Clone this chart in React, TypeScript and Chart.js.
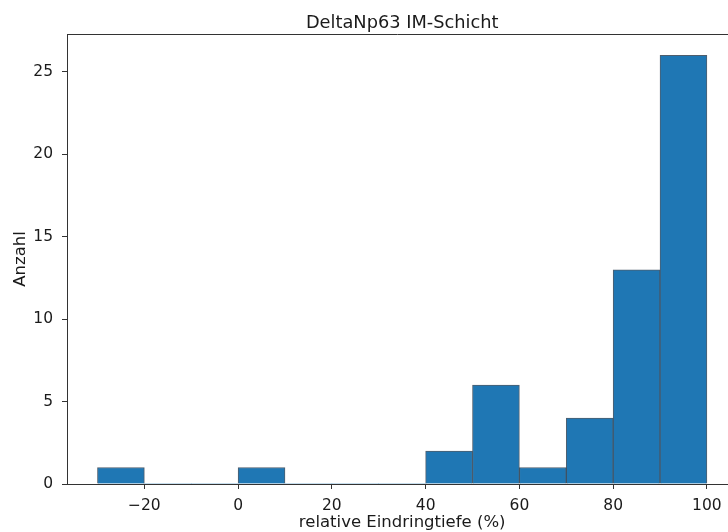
import React, { useEffect, useRef } from "react";
import { Chart, registerables } from "chart.js";

Chart.register(...registerables);

const binStarts = [-30, -20, -10, 0, 10, 20, 30, 40, 50, 60, 70, 80, 90];
const counts = [1, 0, 0, 1, 0, 0, 0, 2, 6, 1, 4, 13, 26];
const binWidth = 10;
const xTicks = [-20, 0, 20, 40, 60, 80, 100];
const yTicks = [0, 5, 10, 15, 20, 25];
const titleText = "DeltaNp63 IM-Schicht";
const xLabel = "relative Eindringtiefe (%)";
const yLabel = "Anzahl";

const FONT = "'DejaVu Sans', sans-serif";
const TEXT = "#1a1a1a";
const SPINE = "#333333";

export default function App() {
  const ref = useRef<HTMLCanvasElement | null>(null);
  useEffect(() => {
    if (!ref.current) return;
    const textPlugin = {
      id: "mplText",
      afterDraw(chart: any) {
        const { ctx, chartArea, scales } = chart;
        const cx = scales.x.getPixelForValue((binStarts[0] + binStarts[binStarts.length - 1] + binWidth) / 2);
        ctx.save();
        ctx.strokeStyle = SPINE;
        ctx.lineWidth = 1;
        ctx.beginPath();
        ctx.moveTo(chartArea.left, chartArea.top + 0.5);
        ctx.lineTo(chartArea.right, chartArea.top + 0.5);
        ctx.stroke();
        ctx.fillStyle = TEXT;
        ctx.textAlign = "center";
        ctx.textBaseline = "alphabetic";
        ctx.font = `17.8px ${FONT}`;
        ctx.fillText(titleText, cx, 28);
        ctx.font = `16.5px ${FONT}`;
        ctx.fillText(xLabel, cx, 527);
        ctx.restore();
      },
    };
    const chart = new Chart(ref.current, {
      type: "bar",
      data: {
        datasets: [
          {
            data: binStarts.map((s, i) => ({ x: s + binWidth / 2, y: counts[i] })),
            backgroundColor: "#1f77b4",
            borderColor: "rgba(20,40,60,0.75)",
            borderWidth: (c: any) => (c.raw && c.raw.y === 0 ? 0 : 1),
            borderSkipped: "bottom",
            barPercentage: 1,
            categoryPercentage: 1,
          } as any,
        ],
      },
      options: {
        animation: false,
        responsive: false,
        layout: { padding: { top: 34, right: 0, left: 0, bottom: 0 } },
        plugins: {
          legend: { display: false },
          tooltip: { enabled: false },
          title: { display: false },
        },
        scales: {
          x: {
            type: "linear",
            min: -36.5,
            max: 104.5,
            offset: false,
            afterBuildTicks: (s: any) => {
              s.ticks = xTicks.map((v) => ({ value: v }));
            },
            afterFit: (s: any) => {
              s.height = 48;
              s.paddingRight = 0;
              s.paddingLeft = 0;
            },
            ticks: {
              color: TEXT,
              font: { family: FONT, size: 15.5 },
              padding: 8,
              maxRotation: 0,
              autoSkip: false,
              callback: (v: any) => String(v).replace("-", "\u2212"),
            },
            grid: {
              display: true,
              offset: false,
              drawOnChartArea: false,
              drawTicks: true,
              tickLength: 5,
              tickColor: SPINE,
            },
            border: { display: true, color: SPINE, width: 1 },
          },
          y: {
            type: "linear",
            min: 0,
            max: 27.3,
            afterBuildTicks: (s: any) => {
              s.ticks = yTicks.map((v) => ({ value: v }));
            },
            afterFit: (s: any) => {
              s.width = 67;
            },
            title: {
              display: true,
              text: yLabel,
              color: TEXT,
              font: { family: FONT, size: 16.5 },
              padding: { top: 11, bottom: 0 },
            },
            ticks: {
              color: TEXT,
              font: { family: FONT, size: 15.5 },
              padding: 9,
            },
            grid: {
              display: true,
              offset: false,
              drawOnChartArea: false,
              drawTicks: true,
              tickLength: 5,
              tickColor: SPINE,
            },
            border: { display: true, color: SPINE, width: 1 },
          },
        },
      } as any,
      plugins: [textPlugin],
    });
    return () => chart.destroy();
  }, []);
  return (
    <div style={{ position: "absolute", left: 0, top: 0, width: 728, height: 532, background: "#fff" }}>
      <canvas ref={ref} width={728} height={532} style={{ display: "block" }} />
    </div>
  );
}
